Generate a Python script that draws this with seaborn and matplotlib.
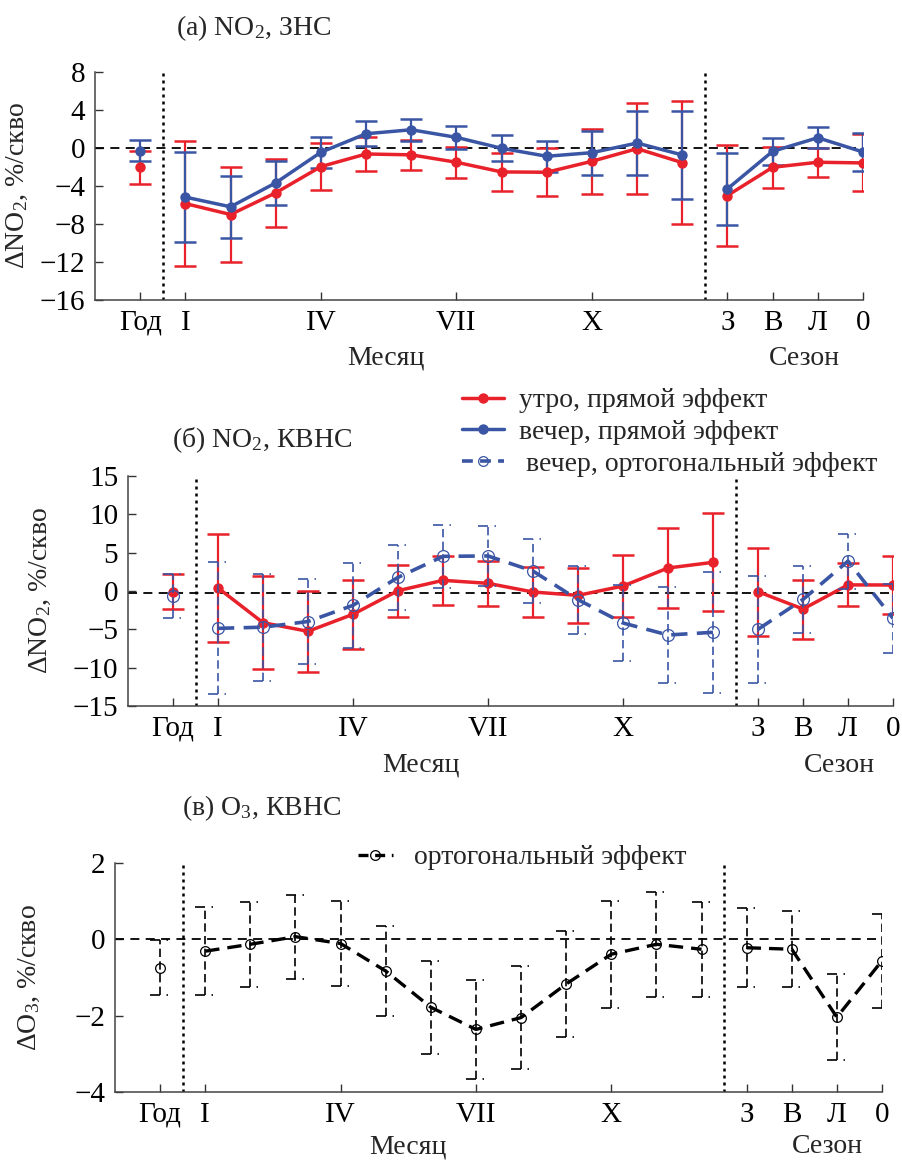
import numpy as np
import pandas as pd
import matplotlib
matplotlib.use("Agg")
import matplotlib.pyplot as plt
import matplotlib.transforms as mtransforms
from matplotlib.lines import Line2D
import seaborn as sns

# categories: year, 12 months, 4 seasons
periods = ["Год", "I", "II", "III", "IV", "V", "VI", "VII", "VIII", "IX", "X", "XI", "XII",
           "З", "В", "Л", "0"]
groups = ["год"] + ["месяц"] * 12 + ["сезон"] * 4
tick_names = ["Год", "I", "IV", "VII", "X", "З", "В", "Л", "0"]

# (a) NO2, ЗНС
a_morning = [-2.05, -5.85, -7.0, -4.72, -1.96, -0.63, -0.72, -1.5, -2.52, -2.55, -1.4, -0.07, -1.54,
             -5.0, -2.03, -1.5, -1.57]
a_morning_err = [1.7, 6.55, 4.95, 3.57, 2.5, 1.8, 1.55, 1.65, 2.0, 2.5, 3.4, 4.8, 6.5,
                 5.3, 2.15, 1.5, 3.0]
a_evening = [-0.3, -5.17, -6.19, -3.67, -0.45, 1.5, 1.92, 1.12, -0.03, -0.87, -0.49, 0.52, -0.73,
             -4.3, -0.35, 1.08, -0.42]
a_evening_err = [1.12, 4.7, 3.25, 2.3, 1.65, 1.3, 1.15, 1.22, 1.38, 1.63, 2.3, 3.4, 4.65,
                 3.8, 1.4, 1.08, 2.05]

# (б) NO2, КВНС
b_morning = [-0.1, 0.4, -4.13, -5.26, -3.04, 0.04, 1.39, 1.0, -0.13, -0.57, 0.65, 3.0, 3.74,
             -0.09, -2.35, 0.8, 0.78]
b_morning_err = [2.3, 7.0, 6.1, 5.3, 4.5, 3.4, 3.2, 2.97, 3.3, 3.6, 4.1, 5.25, 6.4,
                 5.75, 3.85, 2.8, 3.8]
b_ortho = [-0.65, -4.87, -4.72, -3.98, -1.87, 1.78, 4.52, 4.57, 2.6, -1.13, -4.17, -5.74, -5.39,
           -5.0, -1.1, 3.9, -3.57]
b_ortho_err = [2.9, 8.6, 7.0, 5.6, 5.55, 4.2, 4.1, 3.9, 4.2, 4.45, 4.9, 6.3, 7.9,
               7.0, 4.4, 3.6, 4.5]

# (в) O3, КВНС
c_ortho = [-0.74, -0.31, -0.13, 0.07, -0.11, -0.83, -1.78, -2.36, -2.05, -1.17, -0.39, -0.13, -0.26,
           -0.22, -0.26, -2.04, -0.56]
c_ortho_err = [0.73, 1.15, 1.12, 1.1, 1.12, 1.18, 1.22, 1.3, 1.36, 1.38, 1.4, 1.38, 1.24,
               1.03, 1.0, 1.13, 1.23]

RED = "#e8212b"
BLUE = "#3a55a4"

sns.set_theme(style="ticks")
plt.rcParams["font.family"] = ["Liberation Serif", "DejaVu Serif"]
plt.rcParams["mathtext.fontset"] = "custom"
plt.rcParams["mathtext.rm"] = "Liberation Serif"
plt.rcParams["mathtext.it"] = "Liberation Serif:italic"
plt.rcParams["axes.unicode_minus"] = True
FS = 20
TFS = 21


def frame(vals):
    return pd.DataFrame({"pos": np.arange(len(periods)), "val": vals, "grp": groups})


def direct_series(ax, vals, errs, color):
    df = frame(vals)
    ax.errorbar(df["pos"], df["val"], yerr=errs, fmt="none", ecolor=color,
                elinewidth=1.6, capsize=8, capthick=1.8, zorder=3)
    sns.lineplot(data=df, x="pos", y="val", units="grp", estimator=None, color=color,
                 linewidth=2.5, marker="o", markersize=7.5, markeredgecolor=color,
                 markeredgewidth=0, ax=ax, legend=False, zorder=4)


def ortho_series(ax, vals, errs, color, lw, ms, dash):
    df = frame(vals)
    x = df["pos"].to_numpy(dtype=float)
    y = df["val"].to_numpy()
    e = np.asarray(errs)
    eb = ax.errorbar(x, y, yerr=e, fmt="none", ecolor=color, elinewidth=1.2, capsize=0, zorder=5)
    eb.lines[2][0].set_linestyle((0, (5, 2.6)))
    w = 0.22
    ax.hlines(np.r_[y - e, y + e], np.r_[x, x] - w, np.r_[x, x] + w, colors=color,
              linewidth=1.2, linestyles=[(0, (6, 3.9, 0.9, 20))], zorder=5)
    sns.lineplot(data=df, x="pos", y="val", units="grp", estimator=None, color=color,
                 linewidth=lw, linestyle=(0, dash), marker="o", markersize=ms,
                 markerfacecolor="none", markeredgecolor=color, markeredgewidth=0.9,
                 ax=ax, legend=False, zorder=6)


def style_axis(ax, ylim, yticks, zero, ylabel, label_x, month_x, season_x, text_y):
    ax.set_xlim(-1, len(periods) - 1)
    ax.set_ylim(*ylim)
    ax.set_yticks(yticks)
    ax.set_xticks([periods.index(n) for n in tick_names])
    ax.set_xticklabels(tick_names)
    ax.tick_params(direction="in", length=6, width=1, labelsize=TFS, pad=7, colors="#333333",
                   labelcolor="black")
    sns.despine(ax=ax)
    for s in ["left", "bottom"]:
        ax.spines[s].set_color("#444444")
        ax.spines[s].set_linewidth(1.1)
    ax.axhline(zero, color="black", linestyle=(0, (5, 3.5)), linewidth=1.3, zorder=2)
    # separators between year / months / seasons
    for b in [0.5, 12.5]:
        ax.axvline(b, color="black", linestyle=(0, (1.2, 1.6)), linewidth=1.8, zorder=2)
    ax.set_xlabel("")
    ax.set_ylabel(ylabel, fontsize=FS)
    ax.yaxis.set_label_coords(label_x, 0.5)
    tr = mtransforms.blended_transform_factory(ax.transData, ax.transAxes)
    ax.text(month_x, text_y, "Месяц", transform=tr, ha="center", va="center", fontsize=FS)
    ax.text(season_x, text_y, "Сезон", transform=tr, ha="center", va="center", fontsize=FS)


fig = plt.figure(figsize=(9.02, 11.61), dpi=100)
W, H = 902.0, 1161.0


def axes_px(left, right, top, bottom):
    return fig.add_axes([left / W, 1 - bottom / H, (right - left) / W, (bottom - top) / H])


ax_a = axes_px(95, 863, 72, 300)
ax_b = axes_px(128, 893, 476, 706)
ax_c = axes_px(115, 882, 863, 1092)

# (a)
direct_series(ax_a, a_morning, a_morning_err, RED)
direct_series(ax_a, a_evening, a_evening_err, BLUE)
style_axis(ax_a, (-16, 8), np.arange(-16, 9, 4), 0, "ΔNO$_2$, %/скво", -0.085, 5.45, 14.7, -0.255)

# (б)
direct_series(ax_b, b_morning, b_morning_err, RED)
ortho_series(ax_b, b_ortho, b_ortho_err, BLUE, 2.6, 8.5, (4.5, 2.6))
style_axis(ax_b, (-15, 15), np.arange(-15, 16, 5), -0.3, "ΔNO$_2$, %/скво", -0.098, 5.5, 14.8, -0.258)

# (в)
ortho_series(ax_c, c_ortho, c_ortho_err, "black", 2.4, 7, (4.3, 2.4))
style_axis(ax_c, (-4, 2), np.arange(-4, 3, 2), 0, "ΔO$_3$, %/скво", -0.095, 5.5, 14.8, -0.24)

# titles
fig.text(176 / W, 1 - 28 / H, "(a) NO$_2$, ЗНС", fontsize=FS, ha="left", va="center")
fig.text(172 / W, 1 - 440 / H, "(б) NO$_2$, КВНС", fontsize=FS, ha="left", va="center")
fig.text(182 / W, 1 - 808 / H, "(в) O$_3$, КВНС", fontsize=FS, ha="left", va="center")

# legends
h_b = [Line2D([], [], color=RED, lw=2.5, marker="o", ms=7.5, mew=0),
       Line2D([], [], color=BLUE, lw=2.5, marker="o", ms=7.5, mew=0),
       Line2D([], [], color=BLUE, lw=2.6, linestyle=(0, (3, 2)), marker="o", ms=7,
              mfc="none", mec=BLUE, mew=0.9)]
fig.legend(h_b, ["утро, прямой эффект", "вечер, прямой эффект", " вечер, ортогональный эффект"],
           loc="upper left", bbox_to_anchor=(462 / W, 1 - 388 / H), frameon=False,
           fontsize=FS, handlelength=1.5, handletextpad=0.55, labelspacing=0.22,
           borderpad=0, borderaxespad=0)
h_c = [Line2D([], [], color="black", lw=2.4, linestyle=(0, (3, 2)), marker="o", ms=7,
              mfc="none", mec="black", mew=0.9)]
fig.legend(h_c, ["ортогональный эффект"], loc="upper left", bbox_to_anchor=(358 / W, 1 - 845 / H),
           frameon=False, fontsize=FS, handlelength=1.25, handletextpad=0.75,
           borderpad=0, borderaxespad=0)

plt.savefig("out.png", dpi=100)
